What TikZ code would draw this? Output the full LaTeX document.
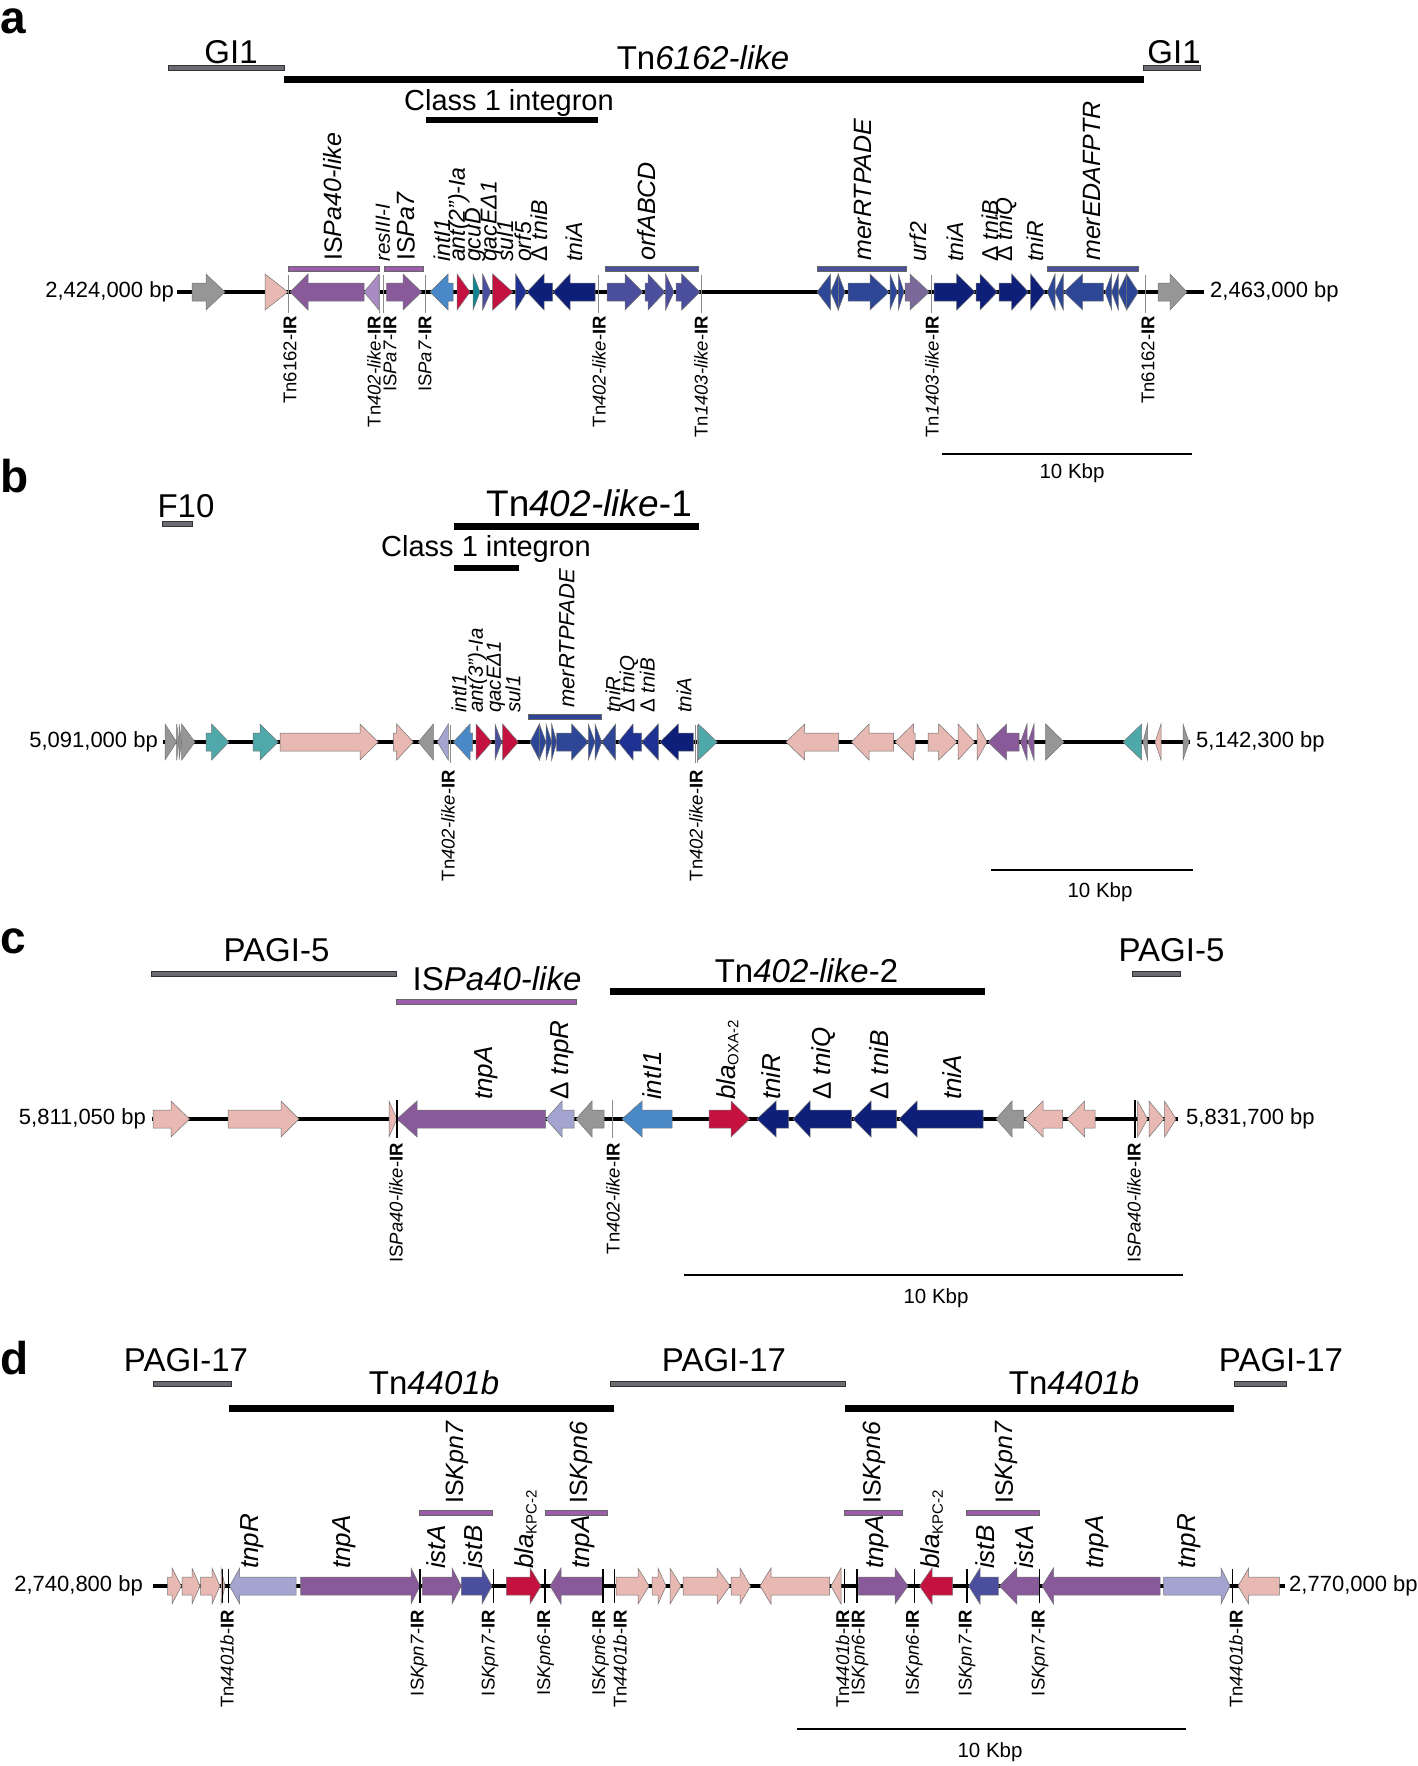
\documentclass[tikz,border=0pt]{standalone}
\usepackage{fontspec}
\setmainfont{Liberation Sans}
\usepackage{tikz}

\definecolor{pinkg}{HTML}{E8B8B2}
\definecolor{grayg}{HTML}{969696}
\definecolor{purpleg}{HTML}{885A9A}
\definecolor{lpurpleg}{HTML}{A98BC2}
\definecolor{lavg}{HTML}{A3A5D0}
\definecolor{steelg}{HTML}{4A89C8}
\definecolor{crimg}{HTML}{C5113F}
\definecolor{tealdk}{HTML}{0F8490}
\definecolor{tealg}{HTML}{4FA8AA}
\definecolor{slateg}{HTML}{4B4E9C}
\definecolor{royalg}{HTML}{2E4696}
\definecolor{navyg}{HTML}{0D1F78}
\definecolor{navyb}{HTML}{1F3192}
\definecolor{urfg}{HTML}{7A6898}
\definecolor{bargray}{HTML}{6E6A73}
\definecolor{barpurple}{HTML}{9C5EAA}
\definecolor{barslate}{HTML}{4A4F9C}

\tikzset{
    gene/.style={draw=black!55, line width=0.5pt, line join=miter},
    backbone/.style={line width=4pt},
    irline/.style={draw=black!45, line width=0.9pt},
    irblack/.style={draw=black, line width=1.3pt},
    islandbar/.style={draw=black!80, fill=bargray, line width=0.5pt},
    tnbar/.style={fill=black},
    isbar/.style={draw=black!60, fill=barpurple, line width=0.5pt},
    merbar/.style={draw=black!60, fill=barslate, line width=0.5pt},
    scalebar/.style={line width=2pt},
    panellabel/.style={font=\fontsize{46}{48}\selectfont\bfseries, anchor=base west, inner sep=0pt},
    isltitle/.style={font=\fontsize{33}{36}\selectfont, anchor=base, inner sep=0pt},
    bplabel/.style={font=\fontsize{22}{24}\selectfont, inner sep=0pt},
    biglabel/.style={rotate=90, anchor=west, inner sep=0pt, font=\fontsize{25}{27}\selectfont},
    glabel/.style={rotate=90, anchor=west, inner sep=0pt, font=\fontsize{23}{25}\selectfont\itshape},
    glabelb/.style={glabel, font=\fontsize{20.5}{22}\selectfont\itshape},
    glabelc/.style={glabel, font=\fontsize{26}{28}\selectfont\itshape},
    irlabel/.style={rotate=90, anchor=east, inner sep=0pt, font=\fontsize{18.5}{20}\selectfont},
    scaletext/.style={font=\fontsize{20.5}{22}\selectfont, inner sep=0pt}
}

% gene arrows on the backbone at height \yb
\newcommand{\rgene}[4]{\filldraw[gene, fill=#1] (#2,\yb-9) -- (#3,\yb-9) -- (#3,\yb-18) -- (#4,\yb) -- (#3,\yb+18) -- (#3,\yb+9) -- (#2,\yb+9) -- cycle}
\newcommand{\lgene}[4]{\filldraw[gene, fill=#1] (#2,\yb) -- (#3,\yb-18) -- (#3,\yb-9) -- (#4,\yb-9) -- (#4,\yb+9) -- (#3,\yb+9) -- (#3,\yb+18) -- cycle}
\newcommand{\irsuf}{-\textbf{IR}}
\newcommand{\subsm}[1]{\raisebox{-3pt}{\upshape\fontsize{15}{15}\selectfont #1}}

\begin{document}
\begin{tikzpicture}[x=1pt, y=-1pt]
\useasboundingbox (0,0) rectangle (1418,1766);

% ===== panel a =====
\node[panellabel] (pa) at (0,34) {a};
\filldraw[islandbar] (168,65.5) rectangle (284,70.5);
\node[isltitle] (aGIl) at (231,64) {GI1};
\filldraw[tnbar] (284,76) rectangle (1143,82);
\node[isltitle] (aTn) at (703,70) {Tn\textit{6162-like}};
\filldraw[islandbar] (1143,65.5) rectangle (1200,70.5);
\node[isltitle] (aGIr) at (1174,64) {GI1};
\node[isltitle, font=\fontsize{29}{32}\selectfont] (aInt) at (509,111) {Class 1 integron};
\filldraw[tnbar] (426,117) rectangle (597,122);

\def\yb{292}
\draw[backbone] (177,\yb) -- (1204,\yb);
\node[bplabel, anchor=east] (abpl) at (174,\yb) {2,424,000 bp};
\node[bplabel, anchor=west] (abpr) at (1210,\yb) {2,463,000 bp};
% cluster bars
\filldraw[isbar] (288,266.5) rectangle (379,271.5);
\filldraw[isbar] (384,266.5) rectangle (423,271.5);
\filldraw[merbar] (605,266.5) rectangle (698,271.5);
\filldraw[merbar] (817,266.5) rectangle (906,271.5);
\filldraw[merbar] (1047,266.5) rectangle (1138,271.5);
% genes
\foreach \c/\s/\h/\e in {grayg/192/206/225, pinkg/265/265/288, purpleg/386.7/403/421.7,
    crimg/457/457/470, tealdk/473/473/480, slateg/482.7/482.7/490.7, crimg/492.7/492.7/512.7,
    navyb/515.7/515.7/526.7, slateg/607/625/642.7, slateg/645/648/665, slateg/665.7/665.7/674,
    slateg/676/681.7/700, royalg/838.3/838.3/845, royalg/848/870/889, royalg/890/890/897.3,
    royalg/898.3/898.3/904, urfg/905/910/929.3, navyg/934/956.7/975, navyg/976/980/997.3,
    navyg/999/1011.7/1028.3, navyg/1030.7/1030.7/1045, royalg/1126.7/1126.7/1138.3,
    grayg/1158/1170/1187}
    {\rgene{\c}{\s}{\h}{\e};}
\foreach \c/\t/\h/\e in {purpleg/290/308/364, lpurpleg/364/379/379, steelg/430/448/453,
    navyg/527/544/552.7, navyg/553/570/595, royalg/817/830.7/830.7, royalg/830.7/838.3/838.3,
    royalg/1047.3/1055/1055, royalg/1055/1063.3/1063.3, royalg/1064/1082.7/1103.3,
    royalg/1105/1111.7/1111.7, royalg/1111.7/1118.3/1118.3, royalg/1118.3/1126.7/1126.7}
    {\lgene{\c}{\t}{\h}{\e};}
\foreach \x in {288.3, 379.5, 383, 425, 598.3, 701.7, 931, 1145}
    \draw[irline] (\x,\yb-17) -- (\x,\yb+21);
% labels above
\foreach \x/\t [count=\i] in {333/{IS\textit{Pa40-like}}, 406/{IS\textit{Pa7}}, 647/{\textit{orfABCD}},
    863/{\textit{merRTPADE}}, 1092.5/{\textit{merEDAFPTR}}}
    \node[biglabel] (abig\i) at (\x,261) {\t};
\node[glabelb] (ares) at (383,262) {resIII-I};
\foreach \x/\t [count=\i] in {442/intI1, 459/{ant(2”)-Ia}, 475/gcuD, 491/qacEΔ1, 505/sul1,
    523/orf5, 539/{{\upshape Δ} tniB}, 574/tniA, 918/urf2, 955/tniA, 990/{{\upshape Δ} tniB},
    1006/{{\upshape Δ} tniQ}, 1035/tniR}
    \node[glabel] (atop\i) at (\x,262) {\t};
% labels below
\foreach \x/\t [count=\i] in {290/{Tn6162\irsuf}, 374/{Tn\textit{402-like}\irsuf}, 390/{IS\textit{Pa7}\irsuf},
    425/{IS\textit{Pa7}\irsuf}, 599/{Tn\textit{402-like}\irsuf}, 701/{Tn\textit{1403-like}\irsuf},
    932/{Tn\textit{1403-like}\irsuf}, 1148/{Tn6162\irsuf}}
    \node[irlabel] (air\i) at (\x,316) {\t};
\draw[scalebar] (941.6,454) -- (1191.6,454);
\node[scaletext] (ascale) at (1072,473) {10 Kbp};

% ===== panel b =====
\node[panellabel] (pb) at (0,492) {b};
\filldraw[islandbar] (162,521.5) rectangle (192,526.5);
\node[isltitle] (bF) at (186,517) {F10};
\filldraw[tnbar] (454,523.5) rectangle (698,529.5);
\node[isltitle, font=\fontsize{37}{40}\selectfont] (bTn) at (589,516) {Tn\textit{402-like}-1};
\node[isltitle, font=\fontsize{29}{32}\selectfont] (bInt) at (486,556) {Class 1 integron};
\filldraw[tnbar] (454,565) rectangle (518,570);

\def\yb{742}
\draw[backbone] (163,\yb) -- (1190,\yb);
\node[bplabel, anchor=east] (bbpl) at (158,\yb) {5,091,000 bp};
\node[bplabel, anchor=west] (bbpr) at (1196,\yb) {5,142,300 bp};
\filldraw[merbar, fill=royalg] (528.3,714) rectangle (601.7,719);
\foreach \c/\s/\h/\e in {grayg/165/165/176.7, grayg/176.7/176.7/179, grayg/179/179/181.7,
    grayg/181.7/181.7/195, tealg/206/211.7/229, tealg/253/260/278.3, pinkg/280/360/378.3,
    pinkg/393.3/396.7/413.3, crimg/476/476/491.7, slateg/495/495/501.7, crimg/502.7/502.7/518.3,
    royalg/539.3/539.3/546, royalg/546/546/551.7, royalg/551.7/551.7/556.7, royalg/556.7/571.7/588.3,
    royalg/588.3/588.3/595, royalg/595/595/601.7, tealg/698.3/698.3/717.3, pinkg/928/938.7/957,
    pinkg/958/958/974.6, pinkg/977/977/987, grayg/1045.7/1045.7/1064, grayg/1183/1183/1189}
    {\rgene{\c}{\s}{\h}{\e};}
\foreach \c/\t/\h/\e in {grayg/418.3/433.3/433.3, lavg/437.3/448.3/448.3, steelg/453.3/470/472.7,
    royalg/530/539.3/539.3, royalg/601.7/615.7/615.7, navyb/618.3/633/641.7, navyb/641.7/658.3/658.3,
    navyg/660/678.3/693.3, pinkg/786/804.7/838.7, pinkg/851.5/869/893.7, pinkg/895/913.5/915,
    purpleg/988/1006.7/1019, purpleg/1020.5/1027/1027, purpleg/1028/1034/1034,
    tealg/1123/1141.7/1141.7, grayg/1143/1147.6/1147.6, pinkg/1155/1161/1161}
    {\lgene{\c}{\t}{\h}{\e};}
\foreach \x in {450, 695, 697.5}
    \draw[irline] (\x,\yb-17) -- (\x,\yb+21);
\node[biglabel, font=\fontsize{22}{24}\selectfont] (bbig1) at (567,708) {\textit{merRTPFADE}};
\foreach \x/\t [count=\i] in {459/intI1, 477.5/{ant(3”)-Ia}, 496/qacEΔ1, 513/sul1, 613/tniR,
    629/{{\upshape Δ} tniQ}, 647.4/{{\upshape Δ} tniB}, 684/tniA}
    \node[glabelb] (btop\i) at (\x,713) {\t};
\foreach \x/\t [count=\i] in {448/{Tn\textit{402-like}\irsuf}, 696/{Tn\textit{402-like}\irsuf}}
    \node[irlabel] (bir\i) at (\x,770) {\t};
\draw[scalebar] (991,870) -- (1193,870);
\node[scaletext] (bscale) at (1100,892) {10 Kbp};

% ===== panel c =====
\node[panellabel] (pc) at (0,953) {c};
\filldraw[islandbar] (151.5,971.5) rectangle (396,976.5);
\node[isltitle] (cPAGIl) at (276.5,961) {PAGI-5};
\filldraw[isbar] (396,999) rectangle (576,1004);
\node[isltitle] (cIS) at (497,990) {IS\textit{Pa40-like}};
\filldraw[tnbar] (610.6,988) rectangle (983.7,994);
\node[isltitle] (cTn) at (806.5,982) {Tn\textit{402-like}-2};
\filldraw[islandbar] (1132.5,971.5) rectangle (1180,976.5);
\node[isltitle] (cPAGIr) at (1171.5,961) {PAGI-5};

\def\yb{1119}
\draw[backbone] (151.5,\yb) -- (1177.5,\yb);
\node[bplabel, anchor=east] (cbpl) at (146,\yb) {5,811,050 bp};
\node[bplabel, anchor=west] (cbpr) at (1186,\yb) {5,831,700 bp};
\foreach \c/\s/\h/\e in {pinkg/153/171/189.6, pinkg/228/281/299, pinkg/389/389/397, crimg/709/731/749.6,
    pinkg/1137.6/1137.6/1147.6, pinkg/1149/1149/1164, pinkg/1164.6/1164.6/1176}
    {\rgene{\c}{\s}{\h}{\e};}
\foreach \c/\t/\h/\e in {purpleg/397/417/545.5, lavg/546/562/574, grayg/576/592/604, steelg/622/642/672,
    navyg/757/776/788.6, navyg/793/810/851.5, navyg/853/871/896.5, navyg/899/917/983,
    grayg/996/1012/1023.7, pinkg/1025/1043/1062.7, pinkg/1067/1084.7/1095}
    {\lgene{\c}{\t}{\h}{\e};}
\draw[irblack] (397,\yb-19) -- (397,\yb+19);
\draw[irline] (612,\yb-19) -- (612,\yb+19);
\draw[irblack, line width=2pt] (1134.8,\yb-19) -- (1134.8,\yb+19);
\foreach \x/\t [count=\i] in {486.7/tnpA, 562/{{\upshape Δ} tnpR}, 652/intI1, 727.5/{bla\subsm{OXA-2}},
    771/tniR, 824/{{\upshape Δ} tniQ}, 879/{{\upshape Δ} tniB}, 952.5/tniA}
    \node[glabelc] (ctop\i) at (\x,1100) {\t};
\foreach \x/\t [count=\i] in {396/{IS\textit{Pa40-like}\irsuf}, 613/{Tn\textit{402-like}\irsuf},
    1134/{IS\textit{Pa40-like}\irsuf}}
    \node[irlabel] (cir\i) at (\x,1143) {\t};
\draw[scalebar] (684,1275) -- (1183,1275);
\node[scaletext] (cscale) at (936,1298) {10 Kbp};

% ===== panel d =====
\node[panellabel] (pd) at (0,1374) {d};
\filldraw[islandbar] (153,1381) rectangle (231,1386);
\node[isltitle] (dPAGIl) at (186,1371) {PAGI-17};
\filldraw[tnbar] (229.6,1404.7) rectangle (613,1410.7);
\node[isltitle] (dTnl) at (434,1394) {Tn\textit{4401b}};
\filldraw[islandbar] (610.6,1381) rectangle (845,1386);
\node[isltitle] (dPAGIm) at (724,1371) {PAGI-17};
\filldraw[tnbar] (845,1404.7) rectangle (1233.5,1410.7);
\node[isltitle] (dTnr) at (1074,1394) {Tn\textit{4401b}};
\filldraw[islandbar] (1234,1381) rectangle (1286,1386);
\node[isltitle] (dPAGIr) at (1281,1371) {PAGI-17};

\def\yb{1586}
\draw[backbone] (153,\yb) -- (1285,\yb);
\node[bplabel, anchor=east] (dbpl) at (143,\yb) {2,740,800 bp};
\node[bplabel, anchor=west] (dbpr) at (1289,\yb) {2,770,000 bp};
\foreach \a/\b in {419/492.6, 545/607, 844.6/902, 966/1039}
    \filldraw[isbar] (\a,1510.2) rectangle (\b,1515.2);
\foreach \c/\s/\h/\e in {pinkg/167.6/172/181.4, pinkg/182/192/200, pinkg/200.6/212/220, pinkg/221/221/225,
    purpleg/300.7/411/420, purpleg/422.4/452/461.4, slateg/461.4/482/492, crimg/506.4/530/541,
    pinkg/616/638/649, pinkg/652/658/666, pinkg/670/670/681, pinkg/683/717/730, pinkg/731/740/750.5,
    purpleg/858.4/895/908, lavg/1163.7/1221/1230}
    {\rgene{\c}{\s}{\h}{\e};}
\foreach \c/\t/\h/\e in {lavg/229.6/239.7/296, purpleg/550/561/602, pinkg/760/771/829.5,
    pinkg/831/841/841, crimg/919.5/932/952.5, slateg/968.6/980/998.4, purpleg/999.4/1016.8/1039,
    purpleg/1042/1053.5/1160, pinkg/1238/1248.7/1279.4}
    {\lgene{\c}{\t}{\h}{\e};}
\foreach \x in {222.7, 228.2, 420, 493.6, 545, 603, 614.3, 844.6, 857, 914.4, 967, 1039.8, 1232.6}
    \draw[irblack] (\x,\yb-17) -- (\x,\yb+17);
\foreach \x/\t [count=\i] in {457/{IS\textit{Kpn7}}, 581/{IS\textit{Kpn6}}, 874.5/{IS\textit{Kpn6}},
    1006.7/{IS\textit{Kpn7}}}
    \node[biglabel] (dbig\i) at (\x,1504) {\t};
\foreach \x/\t [count=\i] in {252.5/tnpR, 344/tnpA, 436/istA, 473/istB, 525.7/{bla\subsm{KPC-2}}, 583/tnpA,
    876.8/tnpA, 932/{bla\subsm{KPC-2}}, 985.6/istB, 1023.7/istA, 1097/tnpA, 1189/tnpR}
    \node[glabelc] (dtop\i) at (\x,1569) {\t};
\foreach \x/\t [count=\i] in {227/{Tn\textit{4401b}\irsuf}, 419/{IS\textit{Kpn7}\irsuf},
    490/{IS\textit{Kpn7}\irsuf}, 545.5/{IS\textit{Kpn6}\irsuf}, 600.5/{IS\textit{Kpn6}\irsuf},
    620/{Tn\textit{4401b}\irsuf}, 842.5/{Tn\textit{4401b}\irsuf}, 860/{IS\textit{Kpn6}\irsuf},
    914.4/{IS\textit{Kpn6}\irsuf}, 967/{IS\textit{Kpn7}\irsuf}, 1040/{IS\textit{Kpn7}\irsuf},
    1236/{Tn\textit{4401b}\irsuf}}
    \node[irlabel] (dir\i) at (\x,1610) {\t};
\draw[scalebar] (797,1729) -- (1186,1729);
\node[scaletext] (dscale) at (990,1752) {10 Kbp};
\end{tikzpicture}
\end{document}
